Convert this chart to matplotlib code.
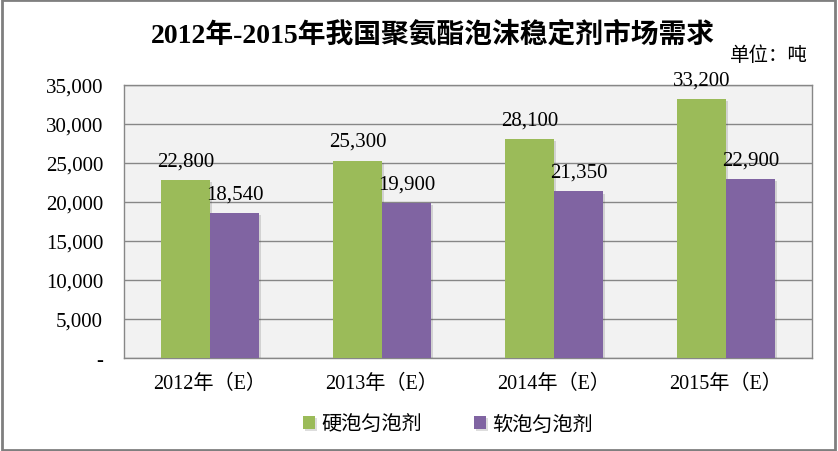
import matplotlib
matplotlib.use("Agg")
import matplotlib.pyplot as plt
import matplotlib.patheffects as pe
from matplotlib.patches import Rectangle
from matplotlib.ticker import FuncFormatter
import numpy as np

plt.rcParams['font.family'] = ['Liberation Serif', 'Noto Sans CJK SC', 'DejaVu Sans']

categories = ['2012年（E）', '2013年（E）', '2014年（E）', '2015年（E）']
series_names = ['硬泡匀泡剂', '软泡匀泡剂']
hard_foam = [22800, 25300, 28100, 33200]
soft_foam = [18540, 19900, 21350, 22900]
colors = ['#9BBB59', '#8064A2']
title = '2012年-2015年我国聚氨酯泡沫稳定剂市场需求'
unit = '单位：吨'

W, H = 838, 452
fig = plt.figure(figsize=(W / 100, H / 100), dpi=100)
ax = fig.add_axes([124 / W, (H - 359) / H, (812 - 124) / W, (359 - 86) / H])
ax.set_facecolor('#f2f2f2')

x = np.arange(len(categories))
bw = 0.285
shadow = [pe.SimplePatchShadow(offset=(1.5, -1.5), alpha=0.18, shadow_rgbFace='#444444'), pe.Normal()]
b1 = ax.bar(x - bw / 2, hard_foam, bw, color=colors[0], label=series_names[0], zorder=3)
b2 = ax.bar(x + bw / 2, soft_foam, bw, color=colors[1], label=series_names[1], zorder=3)
for b in list(b1) + list(b2):
    b.set_path_effects(shadow)

for bars, vals in ((b1, hard_foam), (b2, soft_foam)):
    for b, v in zip(bars, vals):
        ax.annotate(f'{v:,}', (b.get_x() + b.get_width() / 2, v), xytext=(0, 7),
                    textcoords='offset points', ha='center', va='bottom', fontsize=15, zorder=5)

ax.set_xlim(-0.5, len(categories) - 0.5)
ax.set_ylim(0, 35000)
ax.set_yticks(np.arange(0, 35001, 5000))
ax.yaxis.set_major_formatter(FuncFormatter(lambda v, p: '-' if v == 0 else f'{int(v):,}'))
ax.set_xticks(x)
ax.set_xticklabels(categories, fontsize=14.5)
ax.tick_params(axis='both', length=0)
ax.tick_params(axis='y', labelsize=15, pad=15)
ax.tick_params(axis='x', pad=11)
ax.grid(axis='y', color='#878787', linewidth=1, zorder=1)
ax.set_axisbelow(True)
for s in ax.spines.values():
    s.set_color('#878787')
    s.set_linewidth(1)

fig.text(433 / W, 1 - 35 / H, title, ha='center', va='center', fontsize=20, fontweight='bold')
fig.text(808 / W, 1 - 56 / H, unit, ha='right', va='center', fontsize=14)

leg = fig.legend(handles=[b1, b2], labels=series_names, loc='center', bbox_to_anchor=(448 / W, 1 - 426 / H),
                 ncol=2, frameon=False, fontsize=14.5, handlelength=0.6, handleheight=0.6,
                 handletextpad=0.3, columnspacing=2.6)

fig.patches.append(Rectangle((0.002, 0.003), 0.995, 0.994, transform=fig.transFigure, fill=False,
                             edgecolor='#7f7f7f', linewidth=2))

fig.savefig('out.png', dpi=100)
